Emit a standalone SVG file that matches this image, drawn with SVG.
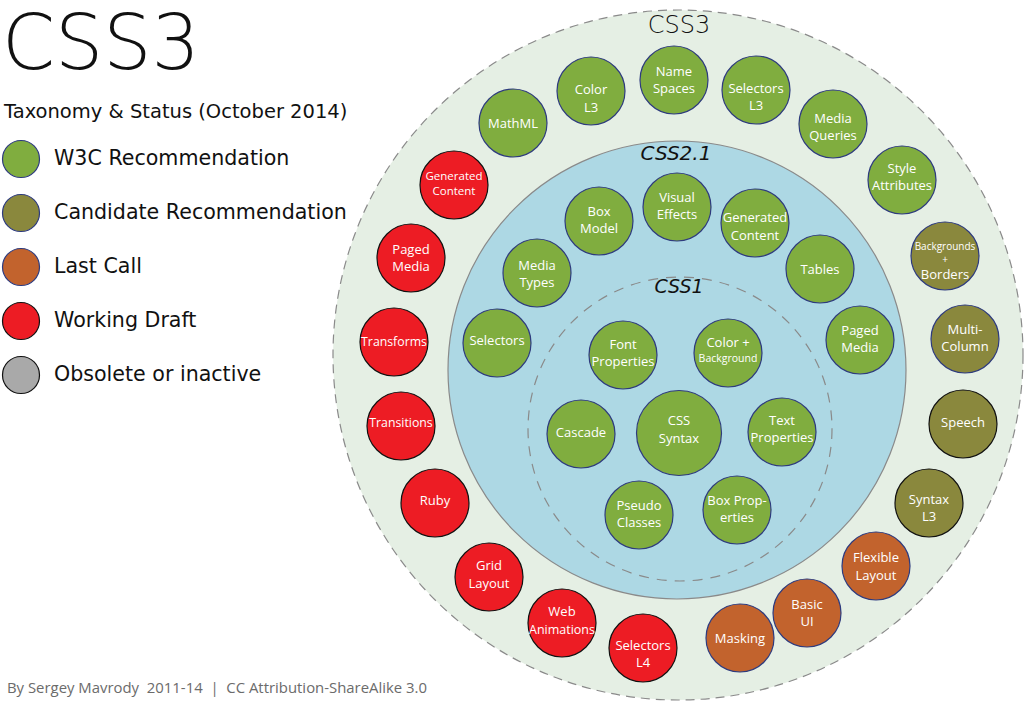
<svg xmlns="http://www.w3.org/2000/svg" width="1028" height="714" viewBox="0 0 1028 714">
<style>
.g{fill:#80ad3f;stroke:#2e3b7e;stroke-width:1.2}
.o{fill:#8a883d;stroke:#2e3b7e;stroke-width:1.2}
.ok{fill:#8a883d;stroke:#111;stroke-width:1.2}
.lc{fill:#c2632d;stroke:#2e3b7e;stroke-width:1.2}
.wd{fill:#ed1c24;stroke:#111;stroke-width:1.2}
.ob{fill:#a9a9a9;stroke:#111;stroke-width:1.2}
.t{font-family:"Open Sans","Noto Sans",sans-serif;font-size:13px;fill:#fff;text-anchor:middle}
.ts{font-family:"Open Sans","Noto Sans",sans-serif;font-size:10px;fill:#fff;text-anchor:middle}
.lg{font-family:"DejaVu Sans",sans-serif;font-size:20.6px;fill:#111}
.ring{font-family:"DejaVu Sans",sans-serif;fill:#111;text-anchor:middle}
</style>
<rect width="1028" height="714" fill="#fff"/>
<g id="title">
<text x="2" y="69" font-family="DejaVu Sans, sans-serif" font-size="76" font-weight="200" fill="#111">CSS3</text>
<text x="4" y="118" font-family="DejaVu Sans, sans-serif" font-size="19.5" fill="#111">Taxonomy &amp; Status (October 2014)</text>
</g>
<g id="legend">
<circle class="g" cx="21" cy="159" r="18.5"/><text class="lg" x="54" y="165">W3C Recommendation</text>
<circle class="o" cx="21" cy="213" r="18.5"/><text class="lg" x="54" y="219">Candidate Recommendation</text>
<circle class="lc" cx="21" cy="267" r="18.5"/><text class="lg" x="54" y="273">Last Call</text>
<circle class="wd" cx="21" cy="321" r="18.5"/><text class="lg" x="54" y="327">Working Draft</text>
<circle class="ob" cx="21" cy="375" r="18.5"/><text class="lg" x="54" y="381">Obsolete or inactive</text>
</g>
<g id="rings">
<circle cx="678" cy="355" r="345" fill="#e5efe4" stroke="#8a8a8a" stroke-width="1.2" stroke-dasharray="9,6"/>
<circle cx="677" cy="370" r="229" fill="#add8e4" stroke="#8a8a8a" stroke-width="1.2"/>
<circle cx="680" cy="429" r="152" fill="none" stroke="#8a8a8a" stroke-width="1.2" stroke-dasharray="10,8"/>
<text class="ring" x="679" y="33" font-size="24" font-weight="300">CSS3</text>
<text class="ring" x="676" y="160" font-size="20" font-style="oblique" font-weight="300">CSS2.1</text>
<text class="ring" x="679" y="293" font-size="19" font-style="oblique" font-weight="300">CSS1</text>
</g>
<g id="connectors"/>
<g id="css3-nodes">
<g id="n-mathml"><circle class="g" cx="513" cy="123" r="34"/><text class="t" x="513" y="128">MathML</text></g>
<g id="n-colorl3"><circle class="g" cx="591" cy="91" r="34"/><text class="t" x="591" y="94">Color</text><text class="t" x="591" y="112">L3</text></g>
<g id="n-namespaces"><circle class="g" cx="674" cy="80" r="34"/><text class="t" x="674" y="76">Name</text><text class="t" x="674" y="93">Spaces</text></g>
<g id="n-selectorsl3"><circle class="g" cx="756" cy="90" r="34"/><text class="t" x="756" y="93">Selectors</text><text class="t" x="756" y="110">L3</text></g>
<g id="n-mediaqueries"><circle class="g" cx="833" cy="124" r="34"/><text class="t" x="833" y="123">Media</text><text class="t" x="833" y="140">Queries</text></g>
<g id="n-styleattr"><circle class="g" cx="902" cy="180" r="34"/><text class="t" x="902" y="173">Style</text><text class="t" x="902" y="190">Attributes</text></g>
<g id="n-bgborders"><circle class="o" cx="945" cy="256" r="34"/><text class="ts" x="945" y="250">Backgrounds</text><text class="ts" x="945" y="263">+</text><text class="t" x="945" y="279">Borders</text></g>
<g id="n-multicol"><circle class="o" cx="965" cy="339" r="34"/><text class="t" x="965" y="334">Multi-</text><text class="t" x="965" y="351">Column</text></g>
<g id="n-speech"><circle class="ok" cx="963" cy="424" r="34"/><text class="t" x="963" y="427">Speech</text></g>
<g id="n-syntaxl3"><circle class="ok" cx="929" cy="503" r="34"/><text class="t" x="929" y="504">Syntax</text><text class="t" x="929" y="521">L3</text></g>
<g id="n-flexible"><circle class="lc" cx="876" cy="566" r="34"/><text class="t" x="876" y="562">Flexible</text><text class="t" x="876" y="580">Layout</text></g>
<g id="n-basicui"><circle class="lc" cx="807" cy="613" r="34"/><text class="t" x="807" y="609">Basic</text><text class="t" x="807" y="626">UI</text></g>
<g id="n-masking"><circle class="lc" cx="740" cy="638" r="34"/><text class="t" x="740" y="643">Masking</text></g>
<g id="n-selectorsl4"><circle class="wd" cx="643" cy="648" r="34"/><text class="t" x="643" y="650">Selectors</text><text class="t" x="643" y="667">L4</text></g>
<g id="n-webanim"><circle class="wd" cx="562" cy="623" r="34"/><text class="t" x="562" y="616">Web</text><text class="t" x="562" y="634" style="font-size:12.5px">Animations</text></g>
<g id="n-grid"><circle class="wd" cx="489" cy="577" r="34"/><text class="t" x="489" y="570">Grid</text><text class="t" x="489" y="588">Layout</text></g>
<g id="n-ruby"><circle class="wd" cx="435" cy="503" r="34"/><text class="t" x="435" y="505">Ruby</text></g>
<g id="n-transitions"><circle class="wd" cx="401" cy="426" r="34"/><text class="t" x="401" y="427" style="font-size:12.3px">Transitions</text></g>
<g id="n-transforms"><circle class="wd" cx="394" cy="342" r="34"/><text class="t" x="394" y="346" style="font-size:12.3px">Transforms</text></g>
<g id="n-pagedmedia3"><circle class="wd" cx="411" cy="258" r="34"/><text class="t" x="411" y="254">Paged</text><text class="t" x="411" y="271">Media</text></g>
<g id="n-gencontent3"><circle class="wd" cx="454" cy="185" r="34"/><text class="ts" x="454" y="180" style="font-size:11.5px">Generated</text><text class="ts" x="454" y="195" style="font-size:11.5px">Content</text></g>
</g>
<g id="css21-nodes">
<g id="n-boxmodel"><circle class="g" cx="599" cy="221" r="34"/><text class="t" x="599" y="216">Box</text><text class="t" x="599" y="233">Model</text></g>
<g id="n-visual"><circle class="g" cx="677" cy="207" r="34"/><text class="t" x="677" y="202">Visual</text><text class="t" x="677" y="219">Effects</text></g>
<g id="n-gencontent21"><circle class="g" cx="755" cy="223" r="34"/><text class="t" x="755" y="222">Generated</text><text class="t" x="755" y="240">Content</text></g>
<g id="n-tables"><circle class="g" cx="820" cy="269" r="34"/><text class="t" x="820" y="274">Tables</text></g>
<g id="n-pagedmedia21"><circle class="g" cx="860" cy="340" r="34"/><text class="t" x="860" y="335">Paged</text><text class="t" x="860" y="352">Media</text></g>
<g id="n-mediatypes"><circle class="g" cx="537" cy="273" r="34"/><text class="t" x="537" y="270">Media</text><text class="t" x="537" y="287">Types</text></g>
<g id="n-selectors21"><circle class="g" cx="497" cy="343" r="34"/><text class="t" x="497" y="345">Selectors</text></g>
</g>
<g id="css1-nodes">
<g id="n-font"><circle class="g" cx="623" cy="355" r="34"/><text class="t" x="623" y="349">Font</text><text class="t" x="623" y="366">Properties</text></g>
<g id="n-colorbg"><circle class="g" cx="728" cy="353" r="34"/><text class="t" x="728" y="347">Color +</text><text class="ts" x="728" y="362" style="font-size:10.5px">Background</text></g>
<g id="n-cascade"><circle class="g" cx="581" cy="434" r="34"/><text class="t" x="581" y="437">Cascade</text></g>
<g id="n-csssyntax"><circle class="g" cx="679" cy="433" r="42.5"/><text class="t" x="679" y="425">CSS</text><text class="t" x="679" y="443">Syntax</text></g>
<g id="n-text"><circle class="g" cx="782" cy="432" r="34"/><text class="t" x="782" y="425">Text</text><text class="t" x="782" y="442">Properties</text></g>
<g id="n-pseudo"><circle class="g" cx="639" cy="515" r="34"/><text class="t" x="639" y="510">Pseudo</text><text class="t" x="639" y="527">Classes</text></g>
<g id="n-boxprop"><circle class="g" cx="737" cy="510" r="34"/><text class="t" x="737" y="505">Box Prop-</text><text class="t" x="737" y="522">erties</text></g>
</g>
<g id="footer">
<text x="7" y="693" font-family="Open Sans, Noto Sans, sans-serif" font-size="14.9" fill="#6b6b6b" style="white-space:pre">By Sergey Mavrody  2011-14  |  CC Attribution-ShareAlike 3.0</text>
</g>
</svg>
